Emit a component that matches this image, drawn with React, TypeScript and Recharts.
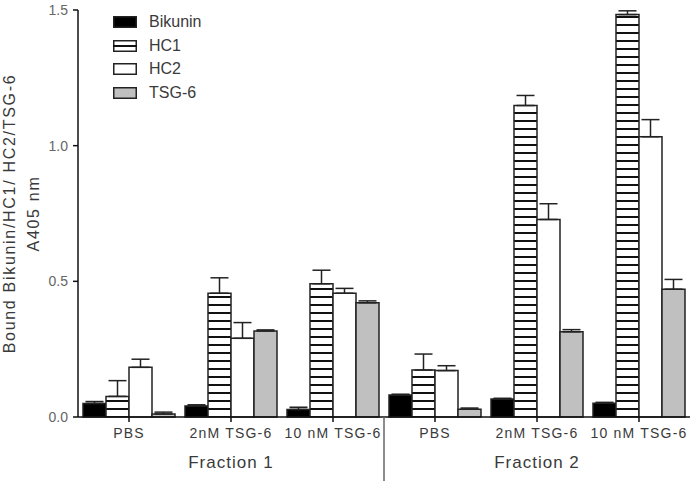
import { BarChart, Bar, XAxis, YAxis, ErrorBar } from "recharts";

const categories = ["PBS", "2nM TSG-6", "10 nM TSG-6", "PBS", "2nM TSG-6", "10 nM TSG-6"];
const fractionLabels: Record<number, string> = { 1: "Fraction 1", 4: "Fraction 2" };

const bikunin = [0.05, 0.041, 0.028, 0.081, 0.066, 0.051];
const bikuninErr = [0.007, 0.004, 0.008, 0.003, 0.003, 0.003];
const hc1 = [0.076, 0.456, 0.491, 0.173, 1.148, 1.483];
const hc1Err = [0.058, 0.057, 0.05, 0.059, 0.037, 0.014];
const hc2 = [0.183, 0.29, 0.456, 0.171, 0.728, 1.033];
const hc2Err = [0.03, 0.058, 0.018, 0.018, 0.058, 0.063];
const tsg6 = [0.011, 0.317, 0.421, 0.029, 0.314, 0.471];
const tsg6Err = [0.007, 0.004, 0.007, 0.004, 0.008, 0.036];

const yTicks = [0, 0.5, 1.0, 1.5];

const data = categories.map((name, i) => ({
  name,
  bikunin: bikunin[i],
  bikuninErr: [0, bikuninErr[i]],
  hc1: hc1[i],
  hc1Err: [0, hc1Err[i]],
  hc2: hc2[i],
  hc2Err: [0, hc2Err[i]],
  tsg6: tsg6[i],
  tsg6Err: [0, tsg6Err[i]],
}));

const FONT = "'Liberation Sans', Arial, sans-serif";
const TEXT = "#3a3a3a";

function CategoryTick(props: any) {
  const { x, y, payload, index } = props;
  const half = payload?.offset ?? 51;
  return (
    <g>
      <text
        x={x}
        y={y + 14}
        textAnchor="middle"
        fontFamily={FONT}
        fontSize={14}
        letterSpacing={1.2}
        fill={TEXT}
      >
        {payload.value}
      </text>
      {fractionLabels[index] && (
        <text
          x={x}
          y={y + 44}
          textAnchor="middle"
          fontFamily={FONT}
          fontSize={17}
          letterSpacing={1}
          fill={TEXT}
        >
          {fractionLabels[index]}
        </text>
      )}
      {index === 3 && (
        <line x1={x - half} x2={x - half} y1={y - 7} y2={y + 57} stroke="#666" strokeWidth={1.5} />
      )}
    </g>
  );
}

function YLabel(props: any) {
  const { viewBox } = props;
  const cy = viewBox.y + viewBox.height / 2;
  return (
    <g fontFamily={FONT} fontSize={16} letterSpacing={1.7} fill={TEXT}>
      <text x={15} y={cy} transform={`rotate(-90 15 ${cy})`} textAnchor="middle">
        Bound Bikunin/HC1/ HC2/TSG-6
      </text>
      <text x={39} y={cy} transform={`rotate(-90 39 ${cy})`} textAnchor="middle">
        A405 nm
      </text>
    </g>
  );
}

const legendItems = [
  { key: "bikunin", label: "Bikunin", fill: "#000", hatch: false },
  { key: "hc1", label: "HC1", fill: "#fff", hatch: true },
  { key: "hc2", label: "HC2", fill: "#fff", hatch: false },
  { key: "tsg6", label: "TSG-6", fill: "#c0c0c0", hatch: false },
];

function ChartLegend() {
  return (
    <div style={{ position: "absolute", left: 113, top: 10, fontFamily: FONT, fontSize: 16, color: TEXT }}>
      {legendItems.map((it) => (
        <div key={it.key} style={{ display: "flex", alignItems: "center", height: 23.7 }}>
          <svg width={24} height={12} style={{ marginRight: 12 }}>
            <rect x={0.75} y={0.75} width={22.5} height={10.5} fill={it.fill} stroke="#222" strokeWidth={1.5} />
            {it.hatch && <line x1={0} x2={24} y1={6} y2={6} stroke="#111" strokeWidth={2} />}
          </svg>
          <span>{it.label}</span>
        </div>
      ))}
    </div>
  );
}

export default function App() {
  return (
    <div style={{ position: "absolute", left: 0, top: 0, width: 693, height: 484 }}>
      <BarChart
        width={693}
        height={484}
        data={data}
        margin={{ top: 10, right: 3, bottom: 0, left: 0 }}
        barCategoryGap={5}
        barGap={0}
      >
        <defs>
          <pattern id="hatchHC1" width={8} height={8} patternUnits="userSpaceOnUse">
            <rect width={8} height={8} fill="#fff" />
            <rect y={0} width={8} height={2} fill="#111" />
          </pattern>
        </defs>
        <XAxis
          dataKey="name"
          height={67}
          stroke="#111"
          strokeWidth={1.5}
          tickSize={5}
          tick={<CategoryTick />}
          interval={0}
        />
        <YAxis
          width={78}
          domain={[0, 1.5]}
          ticks={yTicks}
          tickFormatter={(v: number) => v.toFixed(1)}
          stroke="#111"
          strokeWidth={1.5}
          tickSize={5}
          tickMargin={5}
          tick={{ fontSize: 14, fill: "#666", fontFamily: FONT }}
          label={<YLabel />}
        />
        <Bar dataKey="bikunin" name="Bikunin" fill="#000" stroke="#222" strokeWidth={1.5} isAnimationActive={false}>
          <ErrorBar dataKey="bikuninErr" width={9} stroke="#222" strokeWidth={1.5} direction="y" />
        </Bar>
        <Bar dataKey="hc1" name="HC1" fill="url(#hatchHC1)" stroke="#222" strokeWidth={1.5} isAnimationActive={false}>
          <ErrorBar dataKey="hc1Err" width={9} stroke="#222" strokeWidth={1.5} direction="y" />
        </Bar>
        <Bar dataKey="hc2" name="HC2" fill="#fff" stroke="#222" strokeWidth={1.5} isAnimationActive={false}>
          <ErrorBar dataKey="hc2Err" width={9} stroke="#222" strokeWidth={1.5} direction="y" />
        </Bar>
        <Bar dataKey="tsg6" name="TSG-6" fill="#c0c0c0" stroke="#222" strokeWidth={1.5} isAnimationActive={false}>
          <ErrorBar dataKey="tsg6Err" width={9} stroke="#222" strokeWidth={1.5} direction="y" />
        </Bar>
      </BarChart>
      <ChartLegend />
    </div>
  );
}
